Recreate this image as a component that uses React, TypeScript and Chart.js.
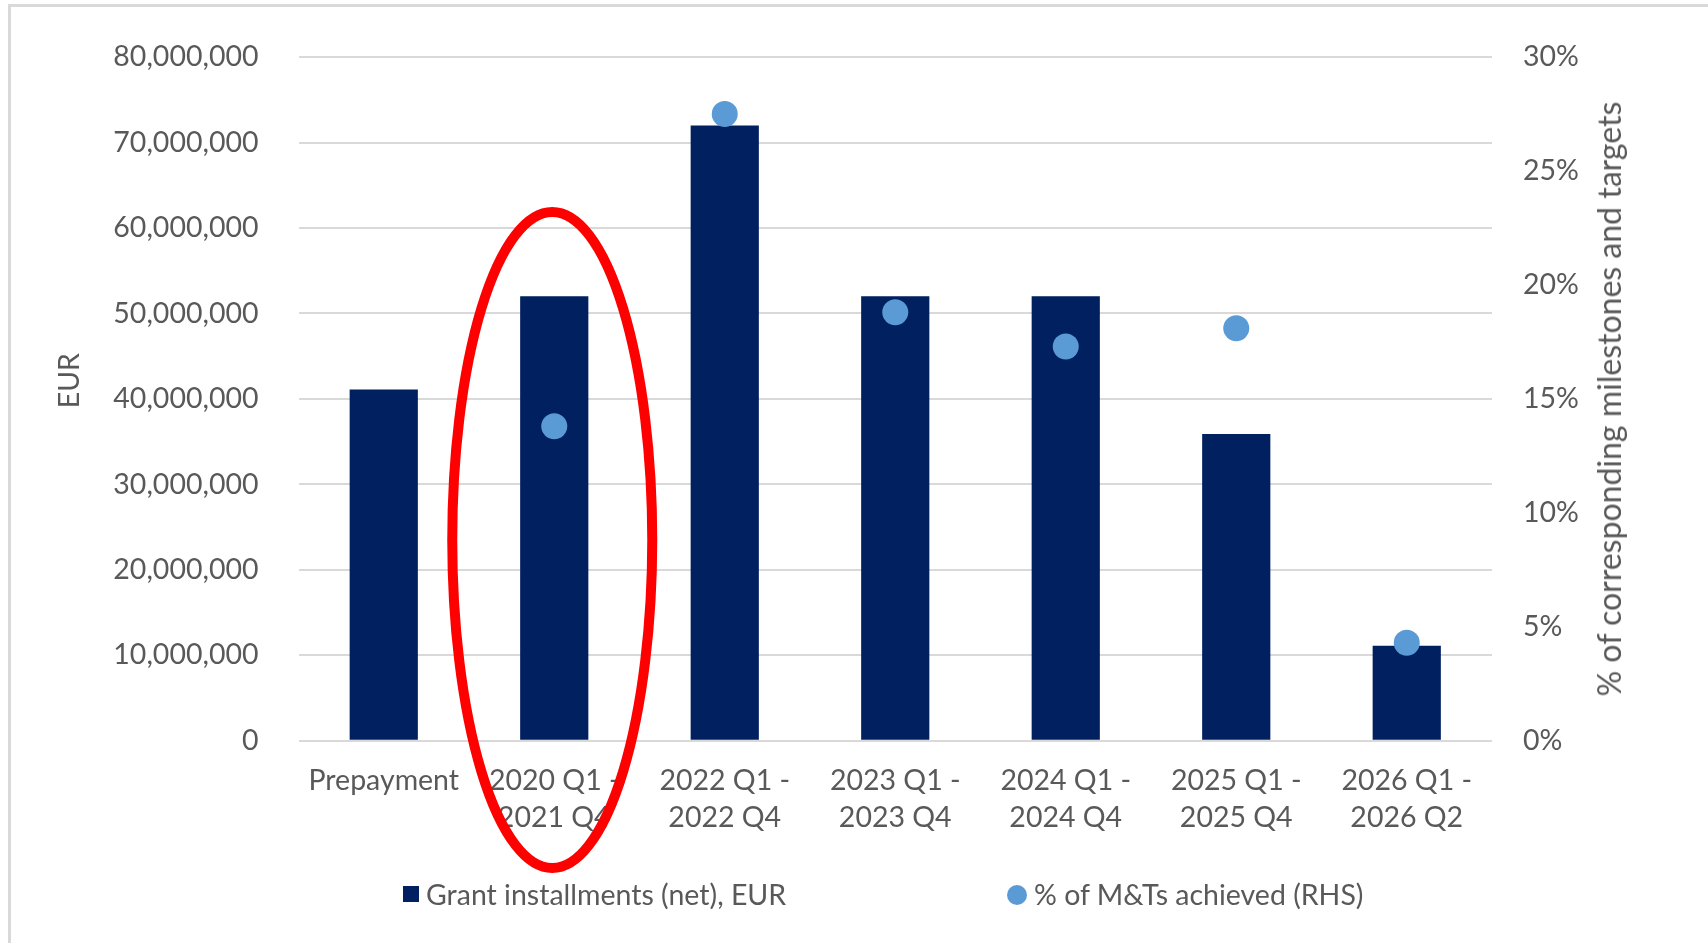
import React, { useEffect, useRef } from "react";
import { Chart, registerables } from "chart.js";

Chart.register(...registerables);

// ---- data ----
const categories: (string | string[])[] = [
  "Prepayment",
  ["2020 Q1 -", "2021 Q4"],
  ["2022 Q1 -", "2022 Q4"],
  ["2023 Q1 -", "2023 Q4"],
  ["2024 Q1 -", "2024 Q4"],
  ["2025 Q1 -", "2025 Q4"],
  ["2026 Q1 -", "2026 Q2"],
];
const grantInstallments = [41100000, 52000000, 72000000, 52000000, 52000000, 35900000, 11100000];
const mtsAchievedPct = [null, 13.8, 27.5, 18.8, 17.3, 18.1, 4.3];
const eurAxisMax = 80000000;
const eurAxisStep = 10000000;
const pctAxisMax = 30;
const pctAxisStep = 5;
const highlightIndex = 1;

const barLabel = "Grant installments (net), EUR";
const pointLabel = "% of M&Ts achieved (RHS)";
const leftTitle = "EUR";
const rightTitle = "% of corresponding milestones and targets";

// ---- styles ----
const W = 1708;
const H = 943;
const FONT = "Lato, 'Open Sans', sans-serif";
const FS = 28.5;
const TEXT = "#595959";
const BAR = "#002060";
const DOT = "#5B9BD5";
const GRID = "#D9D9D9";

const ellipsePlugin = {
  id: "highlightEllipse",
  afterDraw(chart: any) {
    const xs = chart.scales.x;
    const cx = xs.getPixelForValue(highlightIndex) - 2;
    const ctx = chart.ctx;
    ctx.save();
    ctx.beginPath();
    ctx.ellipse(cx, 540, 100, 328, 0, 0, Math.PI * 2);
    ctx.strokeStyle = "#FF0000";
    ctx.lineWidth = 10;
    ctx.stroke();
    ctx.restore();
  },
};

export default function App() {
  const ref = useRef<HTMLCanvasElement | null>(null);

  useEffect(() => {
    if (!ref.current) return;
    const chart = new Chart(ref.current, {
      type: "bar",
      data: {
        labels: categories as any,
        datasets: [
          {
            type: "line" as const,
            label: pointLabel,
            data: mtsAchievedPct as any,
            yAxisID: "y1",
            showLine: false,
            pointRadius: 13,
            pointHoverRadius: 13,
            pointBackgroundColor: DOT,
            pointBorderWidth: 0,
            borderColor: DOT,
            backgroundColor: DOT,
            order: 0,
          },
          {
            type: "bar" as const,
            label: barLabel,
            data: grantInstallments,
            yAxisID: "y",
            backgroundColor: BAR,
            borderWidth: 0,
            barPercentage: 0.4,
            categoryPercentage: 1,
            order: 1,
          },
        ],
      },
      options: {
        responsive: false,
        animation: false,
        events: [],
        layout: { padding: { left: 0, right: 0, top: 56.6, bottom: 102.3 } },
        plugins: {
          legend: { display: false },
          tooltip: { enabled: false },
          title: { display: false },
        },
        scales: {
          x: {
            offset: true,
            grid: { display: false, drawTicks: false },
            border: { display: false },
            ticks: {
              color: TEXT,
              font: { family: FONT, size: FS, lineHeight: 1.3 },
              padding: 22,
              maxRotation: 0,
              minRotation: 0,
              autoSkip: false,
            },
            afterFit: (s: any) => {
              s.height = 100;
            },
          },
          y: {
            position: "left",
            min: 0,
            max: eurAxisMax,
            grid: { color: GRID, lineWidth: 2, drawTicks: false },
            border: { display: false },
            ticks: {
              stepSize: eurAxisStep,
              color: TEXT,
              font: { family: FONT, size: FS },
              padding: 40,
              callback: (v: any) => Number(v).toLocaleString("en-US"),
            },
            title: {
              display: true,
              text: "\u00a0\u00a0\u00a0\u00a0\u00a0" + leftTitle,
              color: TEXT,
              font: { family: FONT, size: FS, lineHeight: 1.2 },
              padding: { top: 53, bottom: 0 },
            },
            afterFit: (s: any) => {
              s.width = 298.5;
            },
          },
          y1: {
            position: "right",
            min: 0,
            max: pctAxisMax,
            grid: { display: false, drawTicks: false },
            border: { display: false },
            ticks: {
              stepSize: pctAxisStep,
              color: TEXT,
              font: { family: FONT, size: FS },
              padding: 31,
              callback: (v: any) => `${v}%`,
            },
            afterFit: (s: any) => {
              s.width = 216;
            },
          },
        },
      },
      plugins: [ellipsePlugin],
    } as any);
    return () => chart.destroy();
  }, []);

  const textStyle: React.CSSProperties = {
    position: "absolute",
    fontFamily: FONT,
    fontSize: FS,
    color: TEXT,
    whiteSpace: "nowrap",
    lineHeight: "34px",
  };

  return (
    <div
      style={{
        position: "fixed",
        left: 0,
        top: 0,
        width: W,
        height: H,
        background: "#fff",
        overflow: "hidden",
      }}
    >
      <div
        style={{
          position: "absolute",
          left: 8,
          top: 4,
          width: W,
          height: H,
          borderTop: "3px solid #D9D9D9",
          borderLeft: "3px solid #D9D9D9",
          boxSizing: "border-box",
        }}
      />
      <canvas
        ref={ref}
        width={W}
        height={H}
        style={{ position: "absolute", left: 0, top: 0, width: W, height: H }}
      />
      <div
        style={{
          ...textStyle,
          fontSize: 32,
          left: 1609,
          top: 398.6,
          transform: "translate(-50%, -50%) rotate(-90deg)",
        }}
      >
        {rightTitle}
      </div>
      <div
        style={{
          position: "absolute",
          left: 403,
          top: 886,
          width: 16,
          height: 16,
          background: BAR,
        }}
      />
      <div style={{ ...textStyle, left: 426, top: 877 }}>{barLabel}</div>
      <div
        style={{
          position: "absolute",
          left: 1007,
          top: 885,
          width: 20,
          height: 20,
          borderRadius: "50%",
          background: DOT,
        }}
      />
      <div style={{ ...textStyle, left: 1034, top: 877 }}>{pointLabel}</div>
    </div>
  );
}
